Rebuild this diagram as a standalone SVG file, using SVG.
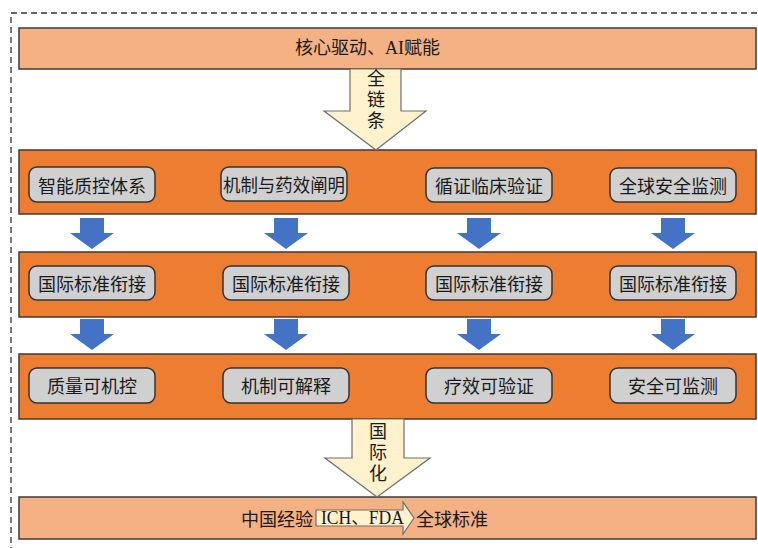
<svg xmlns="http://www.w3.org/2000/svg" width="758" height="548" viewBox="0 0 758 548">
<defs>
<style>
.frame{fill:none;stroke:#333;stroke-width:1.3;stroke-dasharray:6,4}
.light{fill:#F4B183;stroke:#3a3a3a;stroke-width:1.5}
.band{fill:#ED7D31;stroke:#3a3a3a;stroke-width:1.5}
.box{fill:#D0D0D0;stroke:#333;stroke-width:1.5}
.t{font-family:"Noto Sans CJK SC","Liberation Sans",sans-serif;font-size:18px;fill:#1a1a1a;text-anchor:middle;dominant-baseline:central}
.ts{font-family:"Liberation Serif","Noto Sans CJK SC",serif;font-size:18px;fill:#1a1a1a;dominant-baseline:central}
.v{font-family:"Noto Sans CJK SC","Liberation Sans",sans-serif;font-size:18px;fill:#1a1a1a;text-anchor:middle;writing-mode:vertical-rl;letter-spacing:3px}
.big{fill:#FFF2CC;stroke:#6f6f6f;stroke-width:1.2}
.blue{fill:#4472C4}
</style>
<path id="blueArrow" d="M-12,0 H12 V15 H22 L0,31 L-22,15 H-12 Z"/>
</defs>
<rect class="frame" x="11" y="13" width="760" height="560"/>

<g id="top">
<rect class="light" x="19" y="28" width="737" height="41"/>
<text class="ts" x="295" y="48">核心驱动、AI赋能</text>
</g>

<g id="row1">
<rect class="band" x="19" y="150" width="737" height="64"/>
<g id="n1a"><rect class="box" x="29" y="167" width="126" height="35" rx="8"/><text class="t" x="92" y="185">智能质控体系</text></g>
<g id="n1b"><rect class="box" x="221" y="167" width="126" height="34" rx="8"/><text class="t" x="284" y="184" textLength="122" lengthAdjust="spacingAndGlyphs">机制与药效阐明</text></g>
<g id="n1c"><rect class="box" x="426" y="168" width="126" height="34" rx="8"/><text class="t" x="489" y="185">循证临床验证</text></g>
<g id="n1d"><rect class="box" x="610" y="168" width="126" height="34" rx="8"/><text class="t" x="673" y="185">全球安全监测</text></g>
</g>

<g id="row2">
<rect class="band" x="19" y="252" width="737" height="65"/>
<g id="n2a"><rect class="box" x="29" y="266" width="126" height="34" rx="8"/><text class="t" x="92" y="283">国际标准衔接</text></g>
<g id="n2b"><rect class="box" x="223" y="266" width="126" height="34" rx="8"/><text class="t" x="286" y="283">国际标准衔接</text></g>
<g id="n2c"><rect class="box" x="426" y="266" width="126" height="34" rx="8"/><text class="t" x="489" y="283">国际标准衔接</text></g>
<g id="n2d"><rect class="box" x="610" y="266" width="126" height="34" rx="8"/><text class="t" x="673" y="283">国际标准衔接</text></g>
</g>

<g id="row3">
<rect class="band" x="19" y="354" width="737" height="65"/>
<g id="n3a"><rect class="box" x="29" y="368" width="126" height="35" rx="8"/><text class="t" x="92" y="385">质量可机控</text></g>
<g id="n3b"><rect class="box" x="223" y="368" width="126" height="35" rx="8"/><text class="t" x="286" y="385">机制可解释</text></g>
<g id="n3c"><rect class="box" x="426" y="368" width="126" height="35" rx="8"/><text class="t" x="489" y="385">疗效可验证</text></g>
<g id="n3d"><rect class="box" x="610" y="368" width="126" height="35" rx="8"/><text class="t" x="673" y="385">安全可监测</text></g>
</g>

<g id="bottom">
<rect class="light" x="19" y="497" width="737" height="42"/>
<text class="t" x="277" y="518">中国经验</text>
<path class="big" d="M316,510 H403 V502 L414,518 L403,534 V526 H316 Z"/>
<text class="ts" x="321" y="518" textLength="83" lengthAdjust="spacingAndGlyphs">ICH、FDA</text>
<text class="t" x="452" y="518">全球标准</text>
</g>

<g id="connectors">
<g id="bigArrow1">
<path class="big" d="M350,69 H401 V111 H426 L376,150 L324,111 H350 Z"/>
<text class="v" x="376" y="101">全链条</text>
</g>
<g id="bigArrow2">
<path class="big" d="M352,419 H404 V458 H430 L377,497 L325,458 H352 Z"/>
<text class="v" x="378" y="454">国际化</text>
</g>
<use href="#blueArrow" class="blue" x="92" y="218"/>
<use href="#blueArrow" class="blue" x="286" y="218"/>
<use href="#blueArrow" class="blue" x="479" y="218"/>
<use href="#blueArrow" class="blue" x="673" y="218"/>
<use href="#blueArrow" class="blue" x="92" y="319"/>
<use href="#blueArrow" class="blue" x="286" y="319"/>
<use href="#blueArrow" class="blue" x="479" y="319"/>
<use href="#blueArrow" class="blue" x="673" y="319"/>
</g>
</svg>
